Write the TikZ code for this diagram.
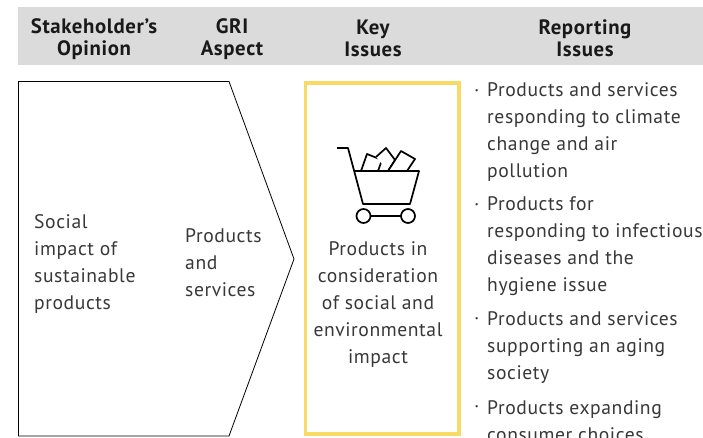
\documentclass[tikz,border=0pt]{standalone}
\usepackage{fontspec}
\setmainfont{PT Sans}[LetterSpace=3]
\definecolor{frameyellow}{HTML}{F8DB66}
\tikzset{
  body/.style={inner sep=0pt,text=black!78,font=\fontsize{19.6}{27}\selectfont},
  left block/.style={body,align=left,anchor=west},
  centre block/.style={body,align=center,anchor=center},
  head/.style={inner sep=0pt,align=center,anchor=center,text=black!90,font=\fontsize{20.8}{22}\selectfont\bfseries},
  cart/.style={line width=1.7pt,draw=black,line join=round,fill=white}
}
\begin{document}
\begin{tikzpicture}[x=1pt,y=-1pt]
\useasboundingbox (0,0) rectangle (703,438);
\clip (0,0) rectangle (703,438);
\fill[fill=white] (0,0) rectangle (703,438);
\fill[fill=black!14] (18,7) rectangle (703,65);
\node[head] (h1) at (94,39) {Stakeholder’s\\Opinion};
\node[head] (h2) at (232,39) {GRI\\Aspect};
\node[head] (h3) at (373,38) {Key\\Issues};
\node[head] (h4) at (585,38) {Reporting\\Issues};
\draw[line width=0.8pt,black] (18.5,81.5) -- (229,81.5) -- (294,259) -- (229,436) -- (18.5,436) -- cycle;
\node[left block] (op) at (34,264) {Social\\impact of\\sustainable\\products};
\node[left block] (as) at (185,262.5) {Products\\and\\services};
\draw[line width=3.5pt,draw=frameyellow] (305.5,83) rectangle (459,434);
% cart
\draw[cart] (361,171) -- (367,154) -- (382,160) -- (378,171);
\draw[cart] (376,157) -- (386,148) -- (395,160) -- (388,171);
\draw[cart] (388,171) -- (401,151) -- (415,159) -- (407,171);
\draw[cart] (337,148) -- (348,148) -- (363,204) -- (410,204) -- (419,171) -- (354,171);
\draw[cart] (370,216) -- (401,216);
\draw[cart] (363.5,216) circle (7);
\draw[cart] (408,216) circle (7);
\node[centre block] (ki) at (378,304.5) {Products in\\consideration\\of social and\\environmental\\impact};
\node[left block] (b1) at (474,93) {·};
\node[left block] (r1) at (487,132.5) {Products and services\\responding to climate\\change and air\\pollution};
\node[left block] (b2) at (474,207) {·};
\node[left block] (r2) at (487,246.5) {Products for\\responding to infectious\\diseases and the\\hygiene issue};
\node[left block] (b3) at (474,321) {·};
\node[left block] (r3) at (487,347.5) {Products and services\\supporting an aging\\society};
\node[left block] (b4) at (474,409) {·};
\node[left block] (r4) at (487,421) {Products expanding\\consumer choices};
\end{tikzpicture}
\end{document}
